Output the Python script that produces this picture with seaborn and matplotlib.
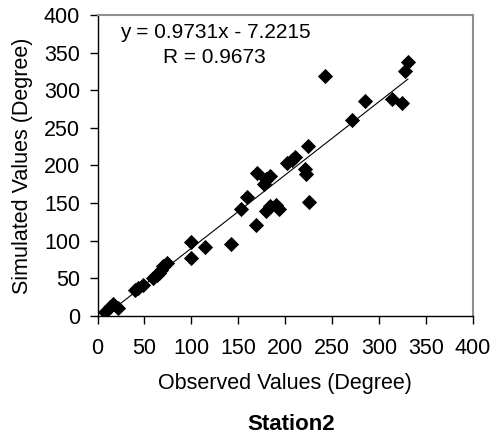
import matplotlib
matplotlib.use("Agg")
import matplotlib.pyplot as plt
import seaborn as sns
import numpy as np
import pandas as pd

# valores
observados = [8, 13, 17, 22, 40, 43, 48, 59, 63, 66, 68, 70, 74, 100, 100, 115,
              142, 153, 159, 169, 170, 177, 180, 184, 180, 184, 190, 193, 202, 207,
              210, 221, 222, 224, 225, 243, 271, 285, 314, 325, 328, 331]
simulados = [6, 12, 16, 11, 35, 37, 41, 50, 55, 57, 61, 66, 70, 99, 77, 92,
             96, 142, 158, 121, 190, 176, 182, 186, 139, 146, 148, 142, 203, 207,
             211, 196, 189, 226, 152, 319, 261, 286, 288, 283, 325, 338]
inclinacao, intercepto = 0.9731, -7.2215
r_valor = 0.9673

df = pd.DataFrame({'obs': observados, 'sim': simulados})

sns.set_theme(style="white", rc={'text.color': 'black', 'axes.labelcolor': 'black',
                                 'xtick.color': 'black', 'ytick.color': 'black'})
plt.rcParams['font.family'] = ['Liberation Sans', 'DejaVu Sans']

fig = plt.figure(figsize=(4.95, 4.38), dpi=100)
ax = fig.add_axes([0.197, 0.2785, 0.758, 0.6873])

sns.scatterplot(data=df, x='obs', y='sim', marker='D', color='black', s=60,
                edgecolor='black', linewidth=0, ax=ax)
xs = np.array([min(observados), max(observados)])
ax.plot(xs, inclinacao * xs + intercepto, color='black', lw=0.8)

ax.set_xlim(0, 400); ax.set_ylim(0, 400)
ax.set_xticks(range(0, 401, 50)); ax.set_yticks(range(0, 401, 50))
ax.tick_params(labelsize=15.5, length=5.5, width=1, color='black', direction='out',
               bottom=True, left=True)
ax.tick_params(axis='x', pad=10)
ax.tick_params(axis='y', pad=7)
for lado in ['left', 'bottom']:
    ax.spines[lado].set_color('black'); ax.spines[lado].set_linewidth(1)
for lado in ['top', 'right']:
    ax.spines[lado].set_color('#909090'); ax.spines[lado].set_linewidth(1.5)

ax.set_xlabel('Observed Values (Degree)', fontsize=15.5)
ax.set_ylabel('Simulated Values (Degree)', fontsize=15.5)
ax.xaxis.set_label_coords(0.5, -0.19)
ax.yaxis.set_label_coords(-0.172, 0.5)
ax.text(24, 377, f'y = {inclinacao}x - {abs(intercepto)}', fontsize=15, va='center')
ax.text(70, 344, f'R = {r_valor}', fontsize=15, va='center')
fig.text(0.588, 0.03, 'Station2', fontsize=16, fontweight='bold', ha='center', va='center')

plt.savefig('out.png', dpi=100)
